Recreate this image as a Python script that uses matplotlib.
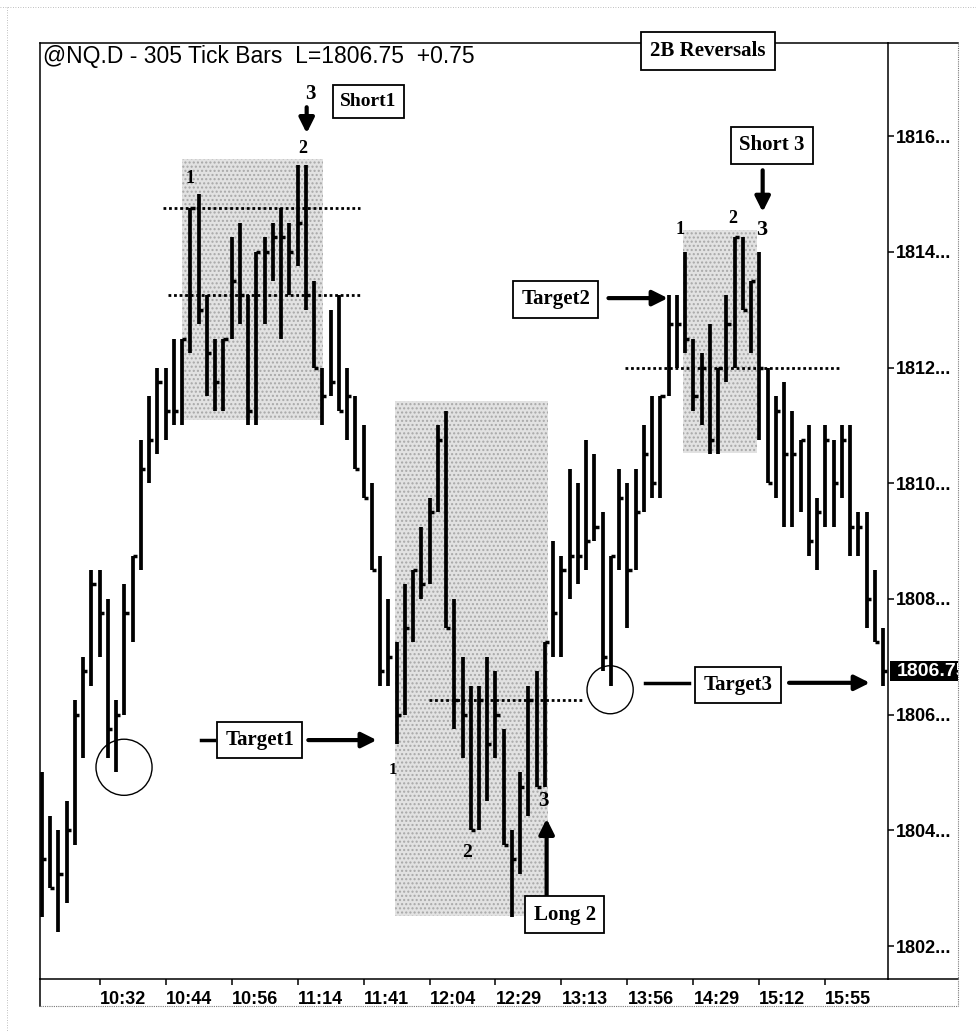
import numpy as np
import matplotlib
matplotlib.use("Agg")
import matplotlib.pyplot as plt
from matplotlib.patches import Rectangle, Ellipse
from matplotlib.lines import Line2D

# @NQ.D 305 tick bars - 2B reversals (HLC bars)

highs = [1805.0, 1804.25, 1804.0, 1804.5, 1806.25, 1807.0, 1808.5, 1808.5, 1808.0, 1806.25,
         1808.25, 1808.75, 1810.75, 1811.5, 1812.0, 1812.0, 1812.5, 1812.5, 1814.75, 1815.0,
         1813.25, 1812.5, 1812.5, 1814.25, 1814.5, 1813.25, 1814.0, 1814.25, 1814.5, 1814.75,
         1814.5, 1815.5, 1815.5, 1813.5, 1812.0, 1813.0, 1813.25, 1812.0, 1811.5, 1811.0,
         1810.0, 1808.75, 1808.0, 1807.25, 1808.25, 1808.5, 1809.25, 1809.75, 1811.0, 1811.25,
         1808.0, 1807.0, 1806.5, 1806.5, 1807.0, 1806.75, 1805.75, 1804.0, 1805.0, 1806.5,
         1806.75, 1807.25, 1809.0, 1808.75, 1810.25, 1810.0, 1810.75, 1810.5, 1809.5, 1808.75,
         1810.25, 1810.0, 1810.25, 1811.0, 1811.5, 1811.5, 1813.25, 1813.25, 1814.0, 1812.5,
         1812.25, 1812.75, 1812.0, 1813.25, 1814.25, 1814.25, 1813.5, 1814.0, 1812.0, 1811.5,
         1811.75, 1811.25, 1810.75, 1811.0, 1809.75, 1811.0, 1810.75, 1811.0, 1811.0, 1809.5,
         1809.5, 1808.5, 1807.5]
lows = [1802.5, 1803.0, 1802.25, 1802.75, 1803.75, 1805.25, 1806.5, 1807.0, 1805.25, 1805.0,
        1806.0, 1807.25, 1808.5, 1810.0, 1810.5, 1810.75, 1811.0, 1811.0, 1812.25, 1812.75,
        1811.5, 1811.25, 1811.25, 1812.5, 1812.75, 1811.0, 1811.0, 1812.75, 1813.5, 1812.5,
        1813.25, 1813.75, 1813.0, 1812.0, 1811.0, 1811.5, 1811.25, 1810.75, 1810.25, 1809.75,
        1808.5, 1806.5, 1806.5, 1805.5, 1806.0, 1807.25, 1808.0, 1808.25, 1809.5, 1807.5,
        1805.75, 1805.25, 1804.0, 1804.0, 1804.5, 1805.25, 1803.75, 1802.5, 1803.25, 1804.25,
        1804.75, 1804.75, 1807.0, 1807.0, 1808.0, 1808.25, 1808.5, 1809.0, 1806.75, 1806.5,
        1808.5, 1807.5, 1808.5, 1809.5, 1809.75, 1809.75, 1811.5, 1812.0, 1812.25, 1811.25,
        1811.0, 1810.5, 1810.5, 1811.75, 1812.0, 1813.0, 1812.25, 1810.75, 1810.0, 1809.75,
        1809.25, 1809.25, 1809.5, 1808.75, 1808.5, 1809.25, 1809.25, 1809.75, 1808.75, 1808.75,
        1807.5, 1807.25, 1806.5]
closes = [1803.5, 1803.0, 1803.25, 1804.0, 1806.0, 1806.75, 1808.25, 1807.75, 1805.75, 1806.0,
          1807.75, 1808.75, 1810.25, 1810.75, 1811.75, 1811.25, 1811.25, 1812.5, 1814.75, 1813.0,
          1812.25, 1811.75, 1812.5, 1813.5, 1813.25, 1811.25, 1814.0, 1814.0, 1814.25, 1814.25,
          1814.0, 1814.5, 1813.25, 1812.0, 1811.5, 1811.75, 1811.25, 1811.5, 1810.25, 1809.75,
          1808.5, 1806.75, 1807.0, 1806.0, 1807.5, 1808.5, 1808.25, 1809.5, 1810.75, 1807.5,
          1806.25, 1806.0, 1804.0, 1806.25, 1805.5, 1806.0, 1803.75, 1803.5, 1804.75, 1806.25,
          1804.75, 1807.25, 1807.75, 1808.5, 1808.75, 1808.75, 1809.0, 1809.25, 1807.0, 1808.75,
          1809.75, 1808.5, 1809.5, 1810.5, 1810.0, 1811.5, 1812.75, 1812.75, 1812.5, 1811.5,
          1812.0, 1810.75, 1812.0, 1812.75, 1814.25, 1813.0, 1813.5, 1812.0, 1810.0, 1811.25,
          1810.5, 1810.5, 1810.75, 1809.0, 1809.5, 1810.75, 1810.0, 1810.75, 1809.25, 1809.25,
          1808.0, 1807.25, 1806.75]

time_labels = ['10:32', '10:44', '10:56', '11:14', '11:41', '12:04',
               '12:29', '13:13', '13:56', '14:29', '15:12', '15:55']
time_ticks = [7, 15, 23, 31, 39, 47, 55, 63, 71, 79, 87, 95]
price_ticks = [1802, 1804, 1806, 1808, 1810, 1812, 1814, 1816]
last_price = 1806.75

W, H = 976, 1031
SERIF = ['Liberation Serif', 'DejaVu Serif']
NARROW = ['Liberation Sans Narrow', 'Liberation Sans', 'DejaVu Sans']

def fx(px):
    return px / W

def fy(py):
    return 1 - py / H

fig = plt.figure(figsize=(W / 100, H / 100), dpi=100)
ax = fig.add_axes([fx(40), fy(979), fx(888) - fx(40), fy(43) - fy(979)])
ax.set_xlim(-0.24, 102.6)
ax.set_ylim(1801.43, 1817.61)

for s in ax.spines.values():
    s.set_linewidth(1.1)

# shaded zones
shade = dict(facecolor='#e2e2e2', edgecolor='#a8a8a8', hatch='....', lw=0, zorder=0)
ax.add_patch(Rectangle((17.0, 1811.1), 17.1, 4.5, **shade))
ax.add_patch(Rectangle((42.8, 1802.52), 18.6, 8.9, **shade))
ax.add_patch(Rectangle((77.7, 1810.52), 9.0, 3.86, **shade))

# bars
idx = np.arange(len(highs))
ax.vlines(idx, lows, highs, color='black', lw=2.7, zorder=3)
ax.hlines(closes, idx, idx + 0.5, color='black', lw=2.5, zorder=3)

# dotted levels
dot = dict(color='black', lw=2.0, ls=(0, (1, 1.0)), zorder=2)
ax.plot([14.7, 38.6], [1814.75, 1814.75], **dot)
ax.plot([15.3, 38.6], [1813.25, 1813.25], **dot)
ax.plot([46.9, 65.5], [1806.25, 1806.25], **dot)
ax.plot([70.7, 96.8], [1812.0, 1812.0], **dot)

# axes ticks
ax.set_xticks(time_ticks)
ax.set_xticklabels(time_labels, ha='left', family=NARROW, fontweight='bold', fontsize=13)
ax.tick_params(axis='x', direction='out', length=4, width=1.1, pad=5)
ax.yaxis.tick_right()
ax.set_yticks(price_ticks)
ax.set_yticklabels([f"{p}..." for p in price_ticks], family=NARROW, fontweight='bold', fontsize=13)
ax.tick_params(axis='y', direction='out', length=4, width=1.1, pad=2)

# circles
ax.add_patch(Ellipse((9.95, 1805.09), 6.8, 0.97, fill=False, ec='black', lw=1.0, zorder=4))
ax.add_patch(Ellipse((68.9, 1806.43), 5.6, 0.83, fill=False, ec='black', lw=1.0, zorder=4))

box = dict(boxstyle='square,pad=0.4', fc='white', ec='black', lw=1.3)
lab = dict(family=SERIF, fontweight='bold', ha='center', va='center', zorder=6)
arr = dict(arrowstyle='-|>,head_width=0.45,head_length=0.9', color='black', lw=3, shrinkA=0, shrinkB=0)

# left top: short 1
ax.text(39.6, 1816.6, 'Short1', fontsize=14, bbox=box, **lab)
ax.text(32.5, 1816.72, '3', fontsize=15, **lab)
ax.annotate('', xy=(32.1, 1816.05), xytext=(32.1, 1816.5), arrowprops=arr, zorder=6)
ax.text(31.6, 1815.79, '2', fontsize=13, **lab)
ax.text(18.0, 1815.27, '1', fontsize=13, **lab)

# target 1
ax.text(26.4, 1805.56, 'Target1', fontsize=15, bbox=box, **lab)
ax.plot([19.3, 20.9], [1805.56, 1805.56], color='black', lw=2.5)
ax.annotate('', xy=(40.6, 1805.56), xytext=(32.3, 1805.56), arrowprops=arr, zorder=6)

# long 2
ax.text(42.6, 1805.04, '1', fontsize=12, **lab)
ax.text(51.5, 1803.61, '2', fontsize=14, **lab)
ax.text(60.8, 1804.5, '3', fontsize=15, **lab)
ax.annotate('', xy=(61.2, 1804.2), xytext=(61.2, 1802.85), arrowprops=arr, zorder=6)
ax.text(63.4, 1802.54, 'Long 2', fontsize=15, bbox=box, **lab)

# target 2 / target 3
ax.text(62.3, 1813.18, 'Target2', fontsize=15, bbox=box, **lab)
ax.annotate('', xy=(75.9, 1813.2), xytext=(68.7, 1813.2), arrowprops=arr, zorder=6)
ax.text(84.4, 1806.51, 'Target3', fontsize=15, bbox=box, **lab)
ax.plot([73.1, 78.5], [1806.55, 1806.55], color='black', lw=2.5)
ax.annotate('', xy=(100.4, 1806.55), xytext=(90.6, 1806.55), arrowprops=arr, zorder=6)

# short 3
ax.text(88.5, 1815.84, 'Short 3', fontsize=15, bbox=box, **lab)
ax.annotate('', xy=(87.4, 1814.69), xytext=(87.4, 1815.41), arrowprops=arr, zorder=6)
ax.text(77.4, 1814.38, '1', fontsize=13, **lab)
ax.text(83.8, 1814.58, '2', fontsize=13, **lab)
ax.text(87.3, 1814.38, '3', fontsize=16, **lab)

# header text
fig.text(fx(43), fy(56), '@NQ.D - 305 Tick Bars  L=1806.75  +0.75', fontsize=16.5,
         family=['Liberation Sans', 'DejaVu Sans'], ha='left', va='center')
fig.text(fx(708), fy(51), '2B Reversals', fontsize=15, family=SERIF, fontweight='bold',
         ha='center', va='center',
         bbox=dict(boxstyle='square,pad=0.45', fc='white', ec='black', lw=1.3), zorder=10)

# last price marker
tag = fig.add_axes([fx(890), fy(681), fx(958) - fx(890), fy(661) - fy(681)])
tag.set_facecolor('black')
tag.set_xticks([])
tag.set_yticks([])
for s in tag.spines.values():
    s.set_visible(False)
tag.text(0.1, 0.5, f"{last_price}", color='white', family=NARROW, fontweight='bold',
         fontsize=14, va='center', ha='left', transform=tag.transAxes, clip_on=True)

# outer frame lines
def fline(x0, y0, x1, y1, **kw):
    fig.add_artist(Line2D([fx(x0), fx(x1)], [fy(y0), fy(y1)], **kw))

fline(888, 43, 958, 43, color='black', lw=1.1)
fline(888, 979, 958, 979, color='black', lw=1.1)
fline(40, 979, 40, 1006, color='black', lw=1.1)
fline(958, 43, 958, 1006, color='#777777', lw=0.8, ls=(0, (1, 1)))
fline(40, 1006, 958, 1006, color='#777777', lw=0.8, ls=(0, (1, 1)))
fline(0, 7, 976, 7, color='#aaaaaa', lw=0.6, ls=(0, (1, 2)))
fline(7, 7, 7, 1031, color='#aaaaaa', lw=0.6, ls=(0, (1, 2)))

fig.savefig('out.png', dpi=100, facecolor='white')
